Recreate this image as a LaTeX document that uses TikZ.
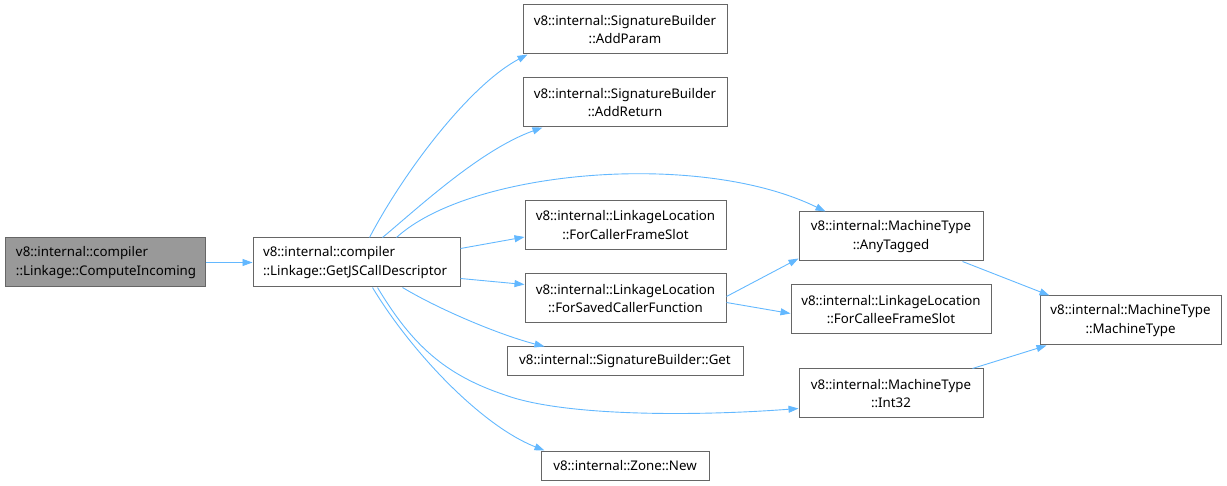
\documentclass[tikz,border=0pt]{standalone}
\usepackage{fontspec}
\setmainfont{Noto Sans}
\usetikzlibrary{arrows.meta}
\definecolor{edgec}{HTML}{63B8FF}
\definecolor{borderc}{HTML}{666666}
\definecolor{hilite}{HTML}{999999}
\tikzset{
  fn/.style={draw=borderc, line width=1pt, fill=white, inner sep=0pt, align=center,
    font=\fontsize{13.3}{18.5}\selectfont, minimum height=49pt},
  fnleft/.style={fn, align=left, inner ysep=0pt},
  call/.style={draw=edgec, line width=0.9pt, -{Triangle[length=10pt,width=7pt]}}
}
\begin{document}
\begin{tikzpicture}[x=1pt,y=-1pt]
\useasboundingbox (0,0) rectangle (1227,486);
\node[fnleft, fill=hilite, inner xsep=11pt, text width=178pt] (ci) at (105,262.5) {v8::internal::compiler\\::Linkage::ComputeIncoming};
\node[fnleft, inner xsep=10pt, text width=187pt] (g) at (356.5,262.5) {v8::internal::compiler\\::Linkage::GetJSCallDescriptor};
\node[fn, minimum width=204pt] (ap) at (625,29.5) {v8::internal::SignatureBuilder\\::AddParam};
\node[fn, minimum width=204pt] (ar) at (625,102.5) {v8::internal::SignatureBuilder\\::AddReturn};
\node[fn, minimum width=201pt] (fcf) at (625.5,225) {v8::internal::LinkageLocation\\::ForCallerFrameSlot};
\node[fn, minimum width=201pt] (fscf) at (625.5,298.5) {v8::internal::LinkageLocation\\::ForSavedCallerFunction};
\node[fn, minimum width=184pt] (at) at (891,236.5) {v8::internal::MachineType\\::AnyTagged};
\node[fn, minimum width=200pt] (fcef) at (891,309.5) {v8::internal::LinkageLocation\\::ForCalleeFrameSlot};
\node[fn, minimum width=236pt, minimum height=29pt] (sg) at (625,361.5) {v8::internal::SignatureBuilder::Get};
\node[fn, minimum width=184pt] (i32) at (891,393.5) {v8::internal::MachineType\\::Int32};
\node[fn, minimum width=168pt, minimum height=29pt] (zn) at (625,465.5) {v8::internal::Zone::New};
\node[fn, minimum width=181pt] (mt) at (1130.5,320.5) {v8::internal::MachineType\\::MachineType};

\draw[call] (ci.east) -- (g.west);
\draw[call] ([xshift=117pt]g.north west) .. controls (405,170) and (470,85) .. ([xshift=5pt]ap.south west);
\draw[call] ([xshift=130pt]g.north west) .. controls (418,208) and (480,150) .. ([xshift=20pt]ar.south west);
\draw[call] ([xshift=144pt]g.north west) .. controls (470,170) and (700,150) .. ([xshift=27pt]at.north west);
\draw[call] ([yshift=14pt]g.east) -- ([yshift=-12pt]fcf.west);
\draw[call] ([yshift=-16pt]g.east) -- ([yshift=14pt]fscf.west);
\draw[call] ([xshift=150pt]g.south west) .. controls (440,310) and (500,335) .. ([xshift=38pt]sg.north west);
\draw[call] ([xshift=125pt]g.south west) .. controls (412,345) and (445,375) .. (505,395)
  .. controls (565,417) and (700,416) .. ([yshift=-15pt]i32.west);
\draw[call] ([xshift=120pt]g.south west) .. controls (410,350) and (480,425) .. ([xshift=4pt]zn.north west);
\draw[call] ([yshift=-23pt]fscf.north east) -- ([yshift=3pt]at.south west);
\draw[call] ([yshift=-4pt]fscf.east) -- ([yshift=-4pt]fcef.west);
\draw[call] ([xshift=-21pt]at.south east) -- ([xshift=10pt]mt.north west);
\draw[call] ([xshift=-11pt]i32.north east) -- ([xshift=7pt]mt.south west);
\end{tikzpicture}
\end{document}
